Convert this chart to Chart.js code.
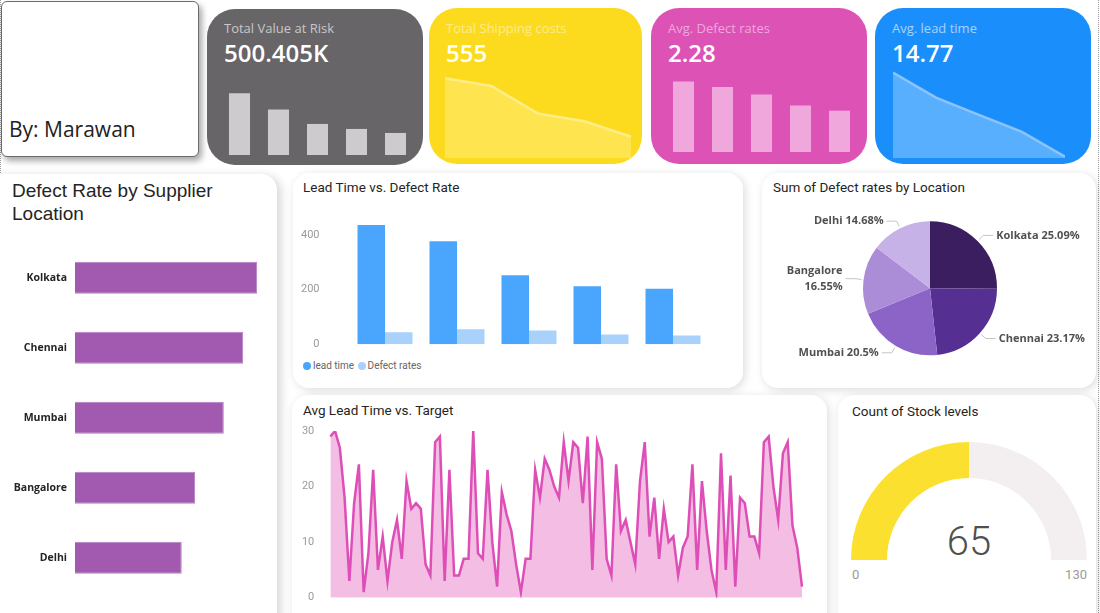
<!DOCTYPE html>
<html><head><meta charset="utf-8">
<script src="https://cdn.jsdelivr.net/npm/chart.js@4.4.1/dist/chart.umd.min.js"></script>
<style>
*{box-sizing:border-box;}
html,body{margin:0;padding:0;}
body{width:1100px;height:613px;overflow:hidden;background:#fff;position:relative;font-family:'Open Sans',sans-serif;}
.abs{position:absolute;white-space:nowrap;}
.panel{position:absolute;background:#fff;border-radius:16px;box-shadow:2px 2px 10px rgba(0,0,0,0.14);}
.kpi{position:absolute;border-radius:28px;}
.kt{position:absolute;font-size:13px;line-height:16px;white-space:nowrap;}
.kv{position:absolute;font-size:24px;font-weight:600;line-height:28px;color:#fff;white-space:nowrap;}
.ptitle{position:absolute;font-family:Roboto,sans-serif;font-size:13.5px;color:#252423;white-space:nowrap;line-height:16px;}
canvas{position:absolute;}
.leg{position:absolute;font-family:Roboto,sans-serif;font-size:10px;color:#666;line-height:12px;white-space:nowrap;}
.dot{display:inline-block;width:8px;height:8px;border-radius:50%;vertical-align:-1px;margin-right:2px;}
</style></head><body>

<div class="abs" style="left:0;top:0;height:613px;border-left:1px dotted #9a9a9a;"></div>
<div class="abs" style="left:1098px;top:0;height:613px;border-left:1px dotted #9a9a9a;"></div>

<div class="abs" style="left:1px;top:1px;width:198px;height:156px;border:1px solid #6a6a6a;border-radius:6px;background:#fff;box-shadow:3px 4px 6px rgba(0,0,0,0.35);"></div>
<div class="abs" style="left:9px;top:115px;font-size:21px;line-height:28px;color:#222;">By: Marawan</div>

<div class="panel" style="left:-16px;top:174px;width:293px;height:460px;box-shadow:4px 2px 10px rgba(0,0,0,0.16);"></div>
<div class="panel" style="left:293px;top:173px;width:450px;height:215px;"></div>
<div class="panel" style="left:762px;top:173px;width:334px;height:215px;"></div>
<div class="panel" style="left:292px;top:395px;width:535px;height:240px;"></div>
<div class="panel" style="left:838px;top:395px;width:258px;height:240px;"></div>

<div class="abs" style="left:12px;top:178.5px;font-family:'Liberation Sans',Arial,sans-serif;font-size:19px;line-height:23px;color:#252423;">Defect Rate by Supplier<br>Location</div>
<div class="ptitle" style="left:303px;top:179px;">Lead Time vs. Defect Rate</div>
<div class="ptitle" style="left:773px;top:179px;">Sum of Defect rates by Location</div>
<div class="ptitle" style="left:303px;top:402px;">Avg Lead Time vs. Target</div>
<div class="ptitle" style="left:852px;top:403px;">Count of Stock levels</div>

<div class="leg" style="left:303px;top:360px;"><span class="dot" style="background:#4aa6fc"></span>lead time <span class="dot" style="background:#a8d2fc;margin-left:1px"></span>Defect rates</div>

<div id="kpis"></div>
<div id="gaugeText"></div>

<script>
// ---------- data ----------
const locations = ['Kolkata','Chennai','Mumbai','Bangalore','Delhi'];
const defectByLocation = [57.2, 52.8, 46.7, 37.7, 33.5];
const pieShares = [25.09, 23.17, 20.5, 16.55, 14.68];
const suppliers = ['Supplier 1','Supplier 2','Supplier 3','Supplier 4','Supplier 5'];
const leadTimeSum = [436, 377, 252, 212, 203];
const defectRateSum = [44, 55, 50, 35.5, 32];
const leadTicks = [0, 200, 400];
const lineTicks = [0, 10, 20, 30];
const leadTimes = [29,30,27,18,3,17,24,1,8,23,
                   5,11,3,10,14,7,21,16,17,16,
                   6,4,28,29,3,23,4,4,7,7,
                   30,8,7,23,10,2,19,15,12,6,
                   1,7,7,23,18,25,23,20,18,28,
                   21,28,27,17,29,5,28,25,7,4,
                   24,12,14,10,6,21,28,11,18,7,
                   16,10,11,4,9,11,24,5,21,12,
                   5,1,26,5,22,2,18,17,11,11,
                   8,28,29,20,14,26,28,13,9,2];
const kpiTitles = ['Total Value at Risk','Total Shipping costs','Avg. Defect rates','Avg. lead time'];
const kpiValues = ['500.405K','555','2.28','14.77'];
const riskTrend = [166, 122, 83.4, 70, 59.2];
const shippingTrend = [174, 157, 97, 80, 47];
const leadTrend = [95, 67, 48, 29, 1.5];
const gaugeValue = 65, gaugeMin = 0, gaugeMax = 130;

// ---------- styles ----------
Chart.defaults.animation = false;
Chart.defaults.font.family = 'Roboto';
Chart.defaults.plugins.legend.display = false;
Chart.defaults.plugins.tooltip.enabled = false;

function mk(l,t,w,h){
  const c=document.createElement('canvas');
  c.width=w;c.height=h;
  c.style.left=l+'px';c.style.top=t+'px';c.style.width=w+'px';c.style.height=h+'px';
  document.body.appendChild(c);return c;
}
function fixAxis(width){
  return function(s){s.width=width;s.paddingTop=0;s.paddingBottom=0;};
}

// KPI cards
const kpiCards = [
  {l:207,t:9,w:216,bg:'#676567',tc:'#c9c7c9'},
  {l:429,t:8,w:213,bg:'#fcdb1e',tc:'#fdeb8c'},
  {l:651,t:8,w:216,bg:'#dc52b5',tc:'#f0a8dc'},
  {l:875,t:8,w:216,bg:'#1a8ffb',tc:'#a8d2fb'}
];
const kp=document.getElementById('kpis');
kpiCards.forEach((k,i)=>{
  const d=document.createElement('div');d.className='kpi';
  d.style.cssText=`left:${k.l}px;top:${k.t}px;width:${k.w}px;height:156px;background:${k.bg};`;
  kp.appendChild(d);
  const t=document.createElement('div');t.className='kt';
  t.style.cssText=`left:${k.l+17}px;top:20px;color:${k.tc};`;t.textContent=kpiTitles[i];kp.appendChild(t);
  const v=document.createElement('div');v.className='kv';
  v.style.cssText=`left:${k.l+17}px;top:39.3px;`;v.textContent=kpiValues[i];kp.appendChild(v);
});

function miniBar(c,data,max,color){
  new Chart(c,{type:'bar',data:{labels:locations,datasets:[{data,backgroundColor:color,borderWidth:0,categoryPercentage:1,barPercentage:0.54}]},
    options:{responsive:false,events:[],layout:{padding:0},scales:{x:{display:false},y:{display:false,min:0,max}}}});
}
function miniArea(c,data,max,line,fill){
  new Chart(c,{type:'line',data:{labels:locations,datasets:[{data,borderColor:line,backgroundColor:fill,fill:'origin',borderWidth:2.5,pointRadius:0,tension:0}]},
    options:{responsive:false,events:[],layout:{padding:0},scales:{x:{display:false},y:{display:false,min:0,max}}}});
}
miniBar(mk(219.7,85,195,70),riskTrend,188,'#cdcbcd');
miniArea(mk(445,70,186,88),shippingTrend,192,'rgba(255,238,150,0.85)','rgba(255,236,120,0.55)');
miniBar(mk(663.7,78,195,74),defectByLocation,60,'#f0a8dc');
miniArea(mk(893.3,68,172,90),leadTrend,100,'rgba(150,200,250,0.9)','rgba(110,185,255,0.75)');

// Defect rate by supplier location (horizontal bars)
new Chart(mk(0,240,272,356),{type:'bar',
  data:{labels:locations,datasets:[{data:defectByLocation,backgroundColor:'#a259b0',borderColor:'#b77fc6',borderWidth:1,categoryPercentage:1,barPercentage:0.457}]},
  options:{indexAxis:'y',responsive:false,events:[],layout:{padding:{top:2.7,bottom:3.3,right:2,left:0}},
    scales:{x:{display:false,min:0,max:61.2},
      y:{grid:{display:false,drawTicks:false},border:{display:false},
         ticks:{padding:8,color:'#252423',font:{family:'Open Sans',size:10.5,weight:'bold'}},
         afterFit:fixAxis(75)}}}});

// Lead time vs defect rate
new Chart(mk(293,212,420,143),{type:'bar',
  data:{labels:suppliers,datasets:[
    {label:'lead time',data:leadTimeSum,backgroundColor:'#4aa6fc',categoryPercentage:0.764,barPercentage:1},
    {label:'Defect rates',data:defectRateSum,backgroundColor:'#a8d2fc',categoryPercentage:0.764,barPercentage:1}]},
  options:{responsive:false,events:[],layout:{padding:{top:9.2,bottom:10.7,right:4,left:0}},
    scales:{x:{display:false},
      y:{min:0,max:450,grid:{display:false,drawTicks:false},border:{display:false},
         ticks:{padding:29.5,color:'#9a9a9a',font:{size:11}},
         afterBuildTicks(s){s.ticks=leadTicks.map(v=>({value:v}));},
         afterFit:fixAxis(56)}}}});

// Pie
const pieLabelPlugin={id:'pieLabels',afterDraw(chart){
  const ctx=chart.ctx,meta=chart.getDatasetMeta(0);
  ctx.save();ctx.font='bold 11px "Open Sans"';ctx.textBaseline='middle';
  meta.data.forEach((arc,i)=>{
    const mid=(arc.startAngle+arc.endAngle)/2,r=arc.outerRadius,cx=arc.x,cy=arc.y;
    const x0=cx+Math.cos(mid)*(r+2),y0=cy+Math.sin(mid)*(r+2);
    const x1=cx+Math.cos(mid)*(r+8),y1=cy+Math.sin(mid)*(r+8);
    const right=Math.cos(mid)>=0;
    const x2=x1+(right?10:-10);
    ctx.strokeStyle='#c4c4c4';ctx.lineWidth=1;
    ctx.beginPath();ctx.moveTo(x0,y0);ctx.lineTo(x1,y1);ctx.lineTo(x2,y1);ctx.stroke();
    const txt=locations[i]+' '+pieShares[i]+'%';
    const tx=x2+(right?3:-3);
    ctx.fillStyle='#505050';ctx.textAlign=right?'left':'right';
    const w=ctx.measureText(txt).width;
    if(!right && tx-w<10){ctx.fillText(locations[i],tx,y1-8);ctx.fillText(pieShares[i]+'%',tx,y1+8.5);}
    else ctx.fillText(txt,tx,y1);
  });
  ctx.restore();
}};
new Chart(mk(762,200,338,180),{type:'pie',
  data:{labels:locations,datasets:[{data:pieShares,backgroundColor:['#3a1e60','#553092','#8c64c8','#aa8cd7','#c6b2e6'],borderWidth:0}]},
  options:{responsive:false,events:[],layout:{padding:{left:101,right:103,top:21.3,bottom:24.7}}},
  plugins:[pieLabelPlugin]});

// Avg lead time line
new Chart(mk(296,420,512,186),{type:'line',
  data:{labels:leadTimes.map((_,i)=>i+1),datasets:[{data:leadTimes,borderColor:'#dd4fb7',backgroundColor:'#f4bde3',fill:'origin',borderWidth:2.5,pointRadius:0,tension:0}]},
  options:{responsive:false,events:[],layout:{padding:{top:11,bottom:8.3,right:6,left:0}},
    scales:{x:{display:false},
      y:{min:0,max:30,grid:{display:false,drawTicks:false},border:{display:false},
         ticks:{padding:16,color:'#9a9a9a',font:{size:11}},
         afterBuildTicks(s){s.ticks=lineTicks.map(v=>({value:v}));},
         afterFit:fixAxis(34.3)}}}});

// Gauge
new Chart(mk(851.3,442,236,118),{type:'doughnut',
  data:{labels:['value','rest'],datasets:[{data:[gaugeValue-gaugeMin,gaugeMax-gaugeValue],backgroundColor:['#fbe02f','#f3eff0'],borderWidth:0}]},
  options:{responsive:false,events:[],rotation:-90,circumference:180,cutout:'69.5%',layout:{padding:0}}});
const gt=document.getElementById('gaugeText');
gt.innerHTML=`<div class="abs" style="left:919px;width:100px;text-align:center;top:522px;font-family:Roboto;font-weight:300;font-size:40px;line-height:40px;color:#505050;">${gaugeValue}</div>
<div class="abs" style="left:852px;top:566.5px;font-family:Roboto;font-size:13px;line-height:16px;color:#9a9a9a;">${gaugeMin}</div>
<div class="abs" style="left:987px;width:100px;text-align:right;top:566.5px;font-family:Roboto;font-size:13px;line-height:16px;color:#9a9a9a;">${gaugeMax}</div>`;
</script>
</body></html>
